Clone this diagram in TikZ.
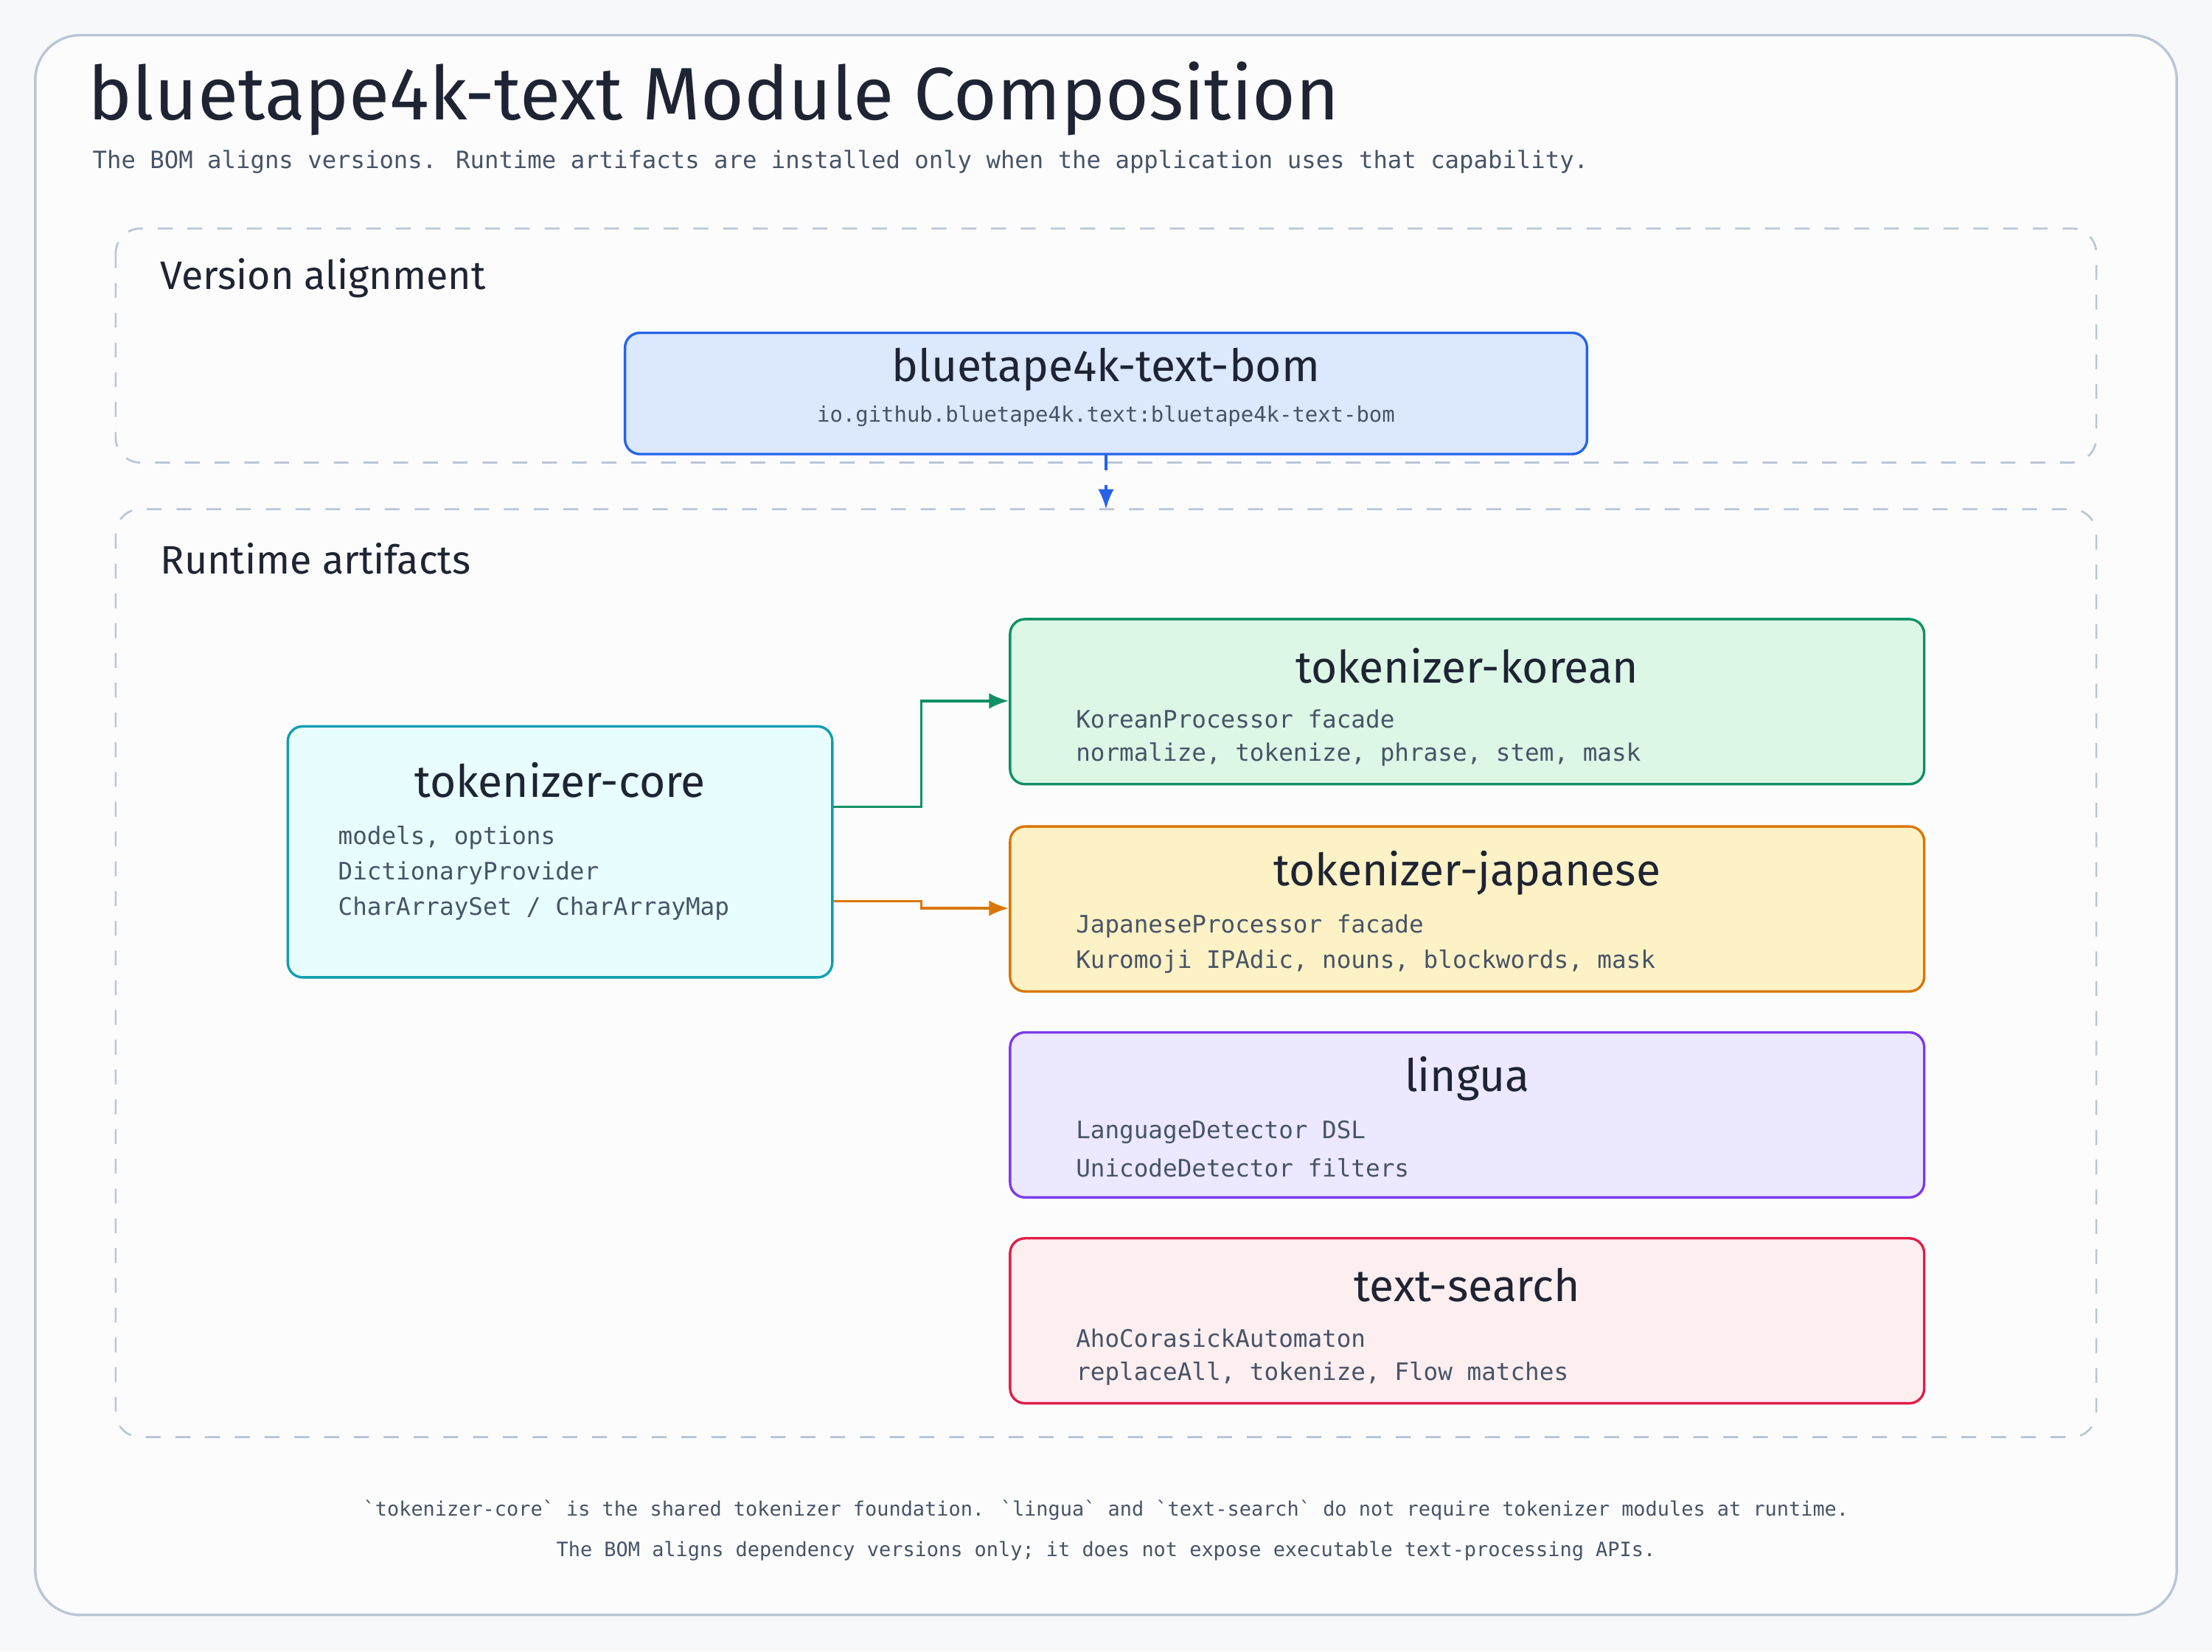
\documentclass[tikz,border=0pt]{standalone}
\usepackage{fontspec}
\setmainfont{Fira Sans}
\newfontfamily\monofont{DejaVu Sans Mono}
\usetikzlibrary{arrows.meta}
\definecolor{bgpage}{HTML}{F7F8FA}
\definecolor{grpline}{HTML}{B9C6D6}
\definecolor{inktext}{HTML}{1E2433}
\definecolor{subtext}{HTML}{475467}
\definecolor{bomfill}{HTML}{DBE8FD}\definecolor{bomline}{HTML}{2563EB}
\definecolor{corefill}{HTML}{E8FDFD}\definecolor{coreline}{HTML}{0E9FB0}
\definecolor{korfill}{HTML}{DCF7E6}\definecolor{korline}{HTML}{109064}
\definecolor{jpfill}{HTML}{FDF1C6}\definecolor{jpline}{HTML}{D97706}
\definecolor{lgfill}{HTML}{ECE8FD}\definecolor{lgline}{HTML}{7C3AED}
\definecolor{tsfill}{HTML}{FDEEF0}\definecolor{tsline}{HTML}{E11D48}
\tikzset{
  group/.style={draw=grpline, dashed, rounded corners=5, line width=0.4pt},
  grouplabel/.style={anchor=west, inner sep=0, text=inktext, font=\fontsize{8}{9}\selectfont},
  card/.style={rounded corners=3, line width=0.5pt},
  cardtitle/.style={text=inktext, font=\fontsize{9}{10}\selectfont},
  cardline/.style={anchor=west, inner sep=0, text=subtext, font=\monofont\fontsize{4.85}{6}\selectfont},
  flow/.style={line width=0.55pt, -{Latex[length=4pt,width=3.2pt]}},
}
\newcommand\tick{\symbol{96}}
\begin{document}
\begin{tikzpicture}[x=0.01cm, y=-0.01cm]
	\fill[bgpage] (0,0) rectangle (1568,1171);
	\useasboundingbox (0,0) rectangle (1568,1171);
	\draw[grpline, fill=white!60!bgpage, rounded corners=9, line width=0.5pt] (25,25) rectangle (1543,1145);

	\node (title) [anchor=west, inner sep=0, text=inktext, font=\fontsize{15}{18}\selectfont] at (62,70) {bluetape4k-text Module Composition};
	\node (subtitle) [anchor=west, inner sep=0, text=subtext, font=\monofont\fontsize{4.8}{6}\selectfont] at (65,115) {The BOM aligns versions. Runtime artifacts are installed only when the application uses that capability.};

	% version alignment
	\draw[group] (82,162) rectangle (1486,328);
	\node (lblversion) [grouplabel] at (113,197) {Version alignment};
	\draw[card, fill=bomfill, draw=bomline] (443,236) rectangle (1125,322);
	\node (bom) at (784,279) [minimum width=6.82cm, minimum height=0.86cm] {};
	\node [cardtitle] at (784,262) {bluetape4k-text-bom};
	\node [text=subtext, font=\monofont\fontsize{4.3}{5}\selectfont] at (784,295) {io.github.bluetape4k.text:bluetape4k-text-bom};

	% runtime artifacts
	\draw[group] (82,361) rectangle (1486,1019);
	\coordinate (rtop) at (784,361);
	\node (lblruntime) [grouplabel] at (113,396) {Runtime artifacts};
	\draw[flow, bomline, dashed] (bom.south) -- (rtop);

	% core
	\draw[card, fill=corefill, draw=coreline] (204,515) rectangle (590,693);
	\node (core) at (397,604) [minimum width=3.86cm, minimum height=1.78cm] {};
	\node [cardtitle] at (397,553) {tokenizer-core};
	\node [cardline] at (239,594) {models, options};
	\node [cardline] at (239,619) {DictionaryProvider};
	\node [cardline] at (239,644) {CharArraySet / CharArrayMap};

	% right column
	\foreach \nm/\ttl/\fl/\ln/\ya/\la/\lb in {
		korean/tokenizer-korean/korfill/korline/439/KoreanProcessor facade/{normalize, tokenize, phrase, stem, mask},
		japanese/tokenizer-japanese/jpfill/jpline/586/JapaneseProcessor facade/{Kuromoji IPAdic, nouns, blockwords, mask},
		lingua/lingua/lgfill/lgline/732/LanguageDetector DSL/UnicodeDetector filters,
		search/text-search/tsfill/tsline/878/AhoCorasickAutomaton/{replaceAll, tokenize, Flow matches}} {
		\draw[card, fill=\fl, draw=\ln] (716,\ya) rectangle (1364,\ya+117);
		\node (\nm) at (1040,\ya+58) [minimum width=6.48cm, minimum height=1.17cm] {};
		\node [cardtitle] at (1040,\ya+33) {\ttl};
		\node [cardline] at (762,\ya+71) {\la};
		\node [cardline] at (762,\ya+96) {\lb};
	}

	\draw[flow, korline] (core.east |- 0,572) -- (653,572) |- (korean.west);
	\draw[flow, jpline] (core.east |- 0,639) -- (653,639) |- (japanese.west);

	\node (note1) [text=subtext, font=\monofont\fontsize{4.0}{5}\selectfont] at (784,1071) {\tick tokenizer-core\tick{} is the shared tokenizer foundation. \tick lingua\tick{} and \tick text-search\tick{} do not require tokenizer modules at runtime.};
	\node (note2) [text=subtext, font=\monofont\fontsize{4.0}{5}\selectfont] at (784,1100) {The BOM aligns dependency versions only; it does not expose executable text-processing APIs.};
\end{tikzpicture}
\end{document}
